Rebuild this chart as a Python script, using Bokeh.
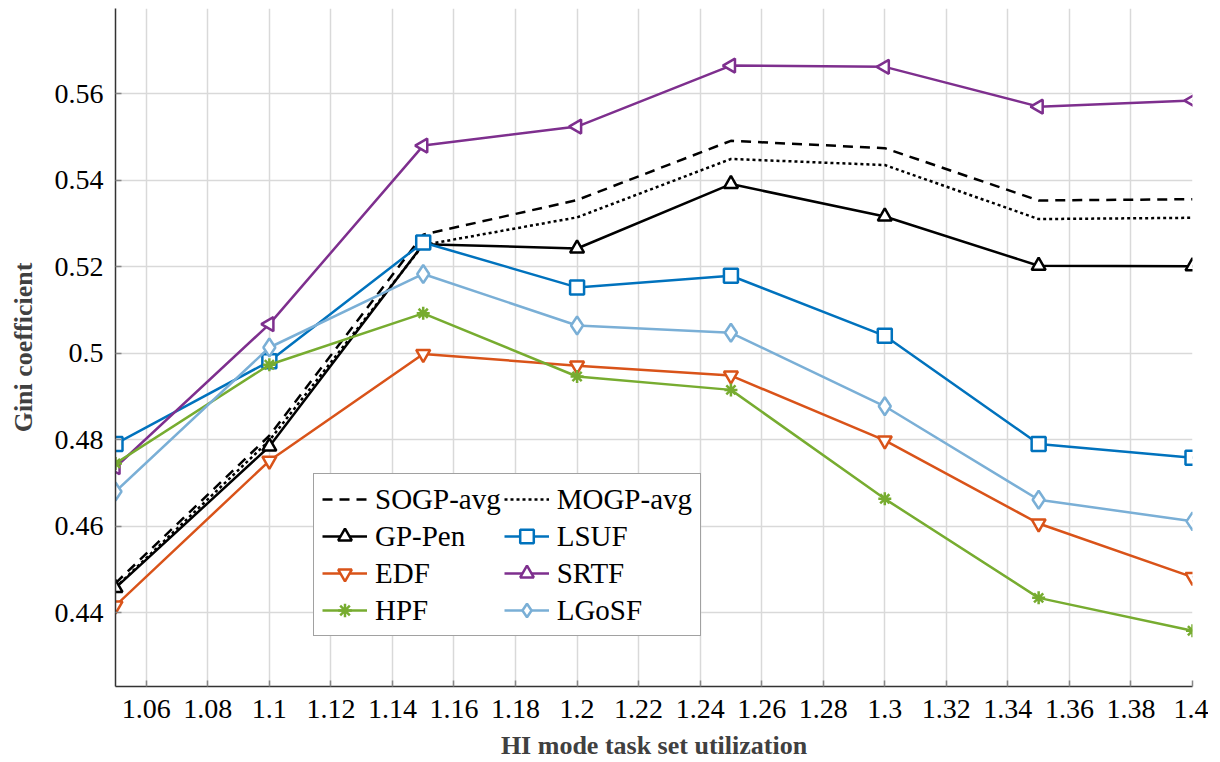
import numpy as np
from bokeh.plotting import figure
from bokeh.models import Range1d, FixedTicker, CustomJSTickFormatter, Legend, LegendItem
from bokeh.embed import file_html
from bokeh.resources import INLINE

x = [1.05, 1.10, 1.15, 1.20, 1.25, 1.30, 1.35, 1.40]
sogp_avg = [0.4468, 0.4809, 0.5274, 0.5354, 0.5491, 0.5474, 0.5353, 0.5356]
mogp_avg = [0.4458, 0.4798, 0.5250, 0.5314, 0.5449, 0.5435, 0.5310, 0.5313]
gp_pen = [0.4457, 0.4784, 0.5252, 0.5242, 0.5391, 0.5316, 0.5202, 0.5201]
lsuf = [0.4790, 0.4981, 0.5256, 0.5152, 0.5179, 0.5040, 0.4790, 0.4758]
edf = [0.4416, 0.4751, 0.4998, 0.4971, 0.4948, 0.4798, 0.4606, 0.4482]
srtf = [0.4736, 0.5067, 0.5480, 0.5524, 0.5665, 0.5662, 0.5570, 0.5584]
hpf = [0.4745, 0.4973, 0.5092, 0.4946, 0.4915, 0.4663, 0.4434, 0.4358]
lgosf = [0.4680, 0.5013, 0.5183, 0.5064, 0.5047, 0.4877, 0.4661, 0.4611]

x_ticks = [1.06, 1.08, 1.10, 1.12, 1.14, 1.16, 1.18, 1.20, 1.22, 1.24, 1.26, 1.28,
           1.30, 1.32, 1.34, 1.36, 1.38, 1.40]
y_ticks = [0.44, 0.46, 0.48, 0.50, 0.52, 0.54, 0.56]

FONT = "Liberation Serif"

p = figure(width=1208, height=762, output_backend="svg", toolbar_location=None,
           x_range=Range1d(1.05, 1.40), y_range=Range1d(0.4229, 0.5797),
           min_border_left=115, min_border_right=16, min_border_top=8,
           min_border_bottom=76)
p.outline_line_color = None
p.background_fill_color = "white"

for ax in (p.xaxis[0], p.yaxis[0]):
    ax.axis_line_color = "#333333"
    ax.axis_line_width = 1.5
    ax.major_tick_in = 6
    ax.major_tick_out = 0
    ax.minor_tick_in = 0
    ax.minor_tick_out = 0
    ax.major_tick_line_color = "#888888"
    ax.major_tick_line_width = 1.5
    ax.major_label_text_font = FONT
    ax.major_label_text_font_size = "28px"
    ax.major_label_text_color = "black"
    ax.axis_label_text_font = FONT
    ax.axis_label_text_font_style = "bold"
    ax.axis_label_text_font_size = "26px"
    ax.axis_label_text_color = "#404040"
    ax.formatter = CustomJSTickFormatter(code="return String(Number(tick.toFixed(2)));")

p.xaxis[0].ticker = FixedTicker(ticks=x_ticks)
p.yaxis[0].ticker = FixedTicker(ticks=y_ticks)
p.xaxis[0].axis_label = "HI mode task set utilization"
p.yaxis[0].axis_label = "Gini coefficient"
p.xaxis[0].major_label_standoff = 13
p.yaxis[0].major_label_standoff = 12
p.xaxis[0].axis_label_standoff = 10
p.yaxis[0].axis_label_standoff = 14

p.xgrid.ticker = FixedTicker(ticks=x_ticks)
p.ygrid.ticker = FixedTicker(ticks=y_ticks)
p.xgrid.grid_line_color = "#d9d9d9"
p.ygrid.grid_line_color = "#d9d9d9"
p.xgrid.grid_line_width = 1.5
p.ygrid.grid_line_width = 1.5

LW = 2.5
it = {}

r = p.line(x, sogp_avg, line_color="black", line_width=LW, line_dash="10 7")
it["SOGP-avg"] = [r]
r = p.line(x, mogp_avg, line_color="black", line_width=LW, line_dash="3 3")
it["MOGP-avg"] = [r]

def series(y, color, marker, size, angle=0.0):
    l = p.line(x, y, line_color=color, line_width=LW)
    m = p.scatter(x, y, marker=marker, size=size, angle=angle,
                  line_color=color, line_width=2.5, fill_color="white")
    return [l, m]

it["GP-Pen"] = series(gp_pen, "black", "triangle", 14)
it["LSUF"] = series(lsuf, "#0072BD", "square", 14)
it["EDF"] = series(edf, "#D95319", "inverted_triangle", 14)
it["SRTF"] = series(srtf, "#7E2F8E", "triangle", 14, np.pi / 2)
it["HPF"] = series(hpf, "#77AC30", "asterisk", 13)
it["LGoSF"] = series(lgosf, "#7AAFD6", "diamond", 18)

# column-major fill: left column then right column
order = ["SOGP-avg", "GP-Pen", "EDF", "HPF", "MOGP-avg", "LSUF", "SRTF", "LGoSF"]
items = [LegendItem(label=k, renderers=it[k]) for k in order]

legend = Legend(items=items, location=(198, 50), ncols=2,
                label_text_font=FONT, label_text_font_size="29px",
                label_text_color="black",
                label_height=34, glyph_width=45, glyph_height=34,
                label_standoff=8, spacing=3, padding=8, margin=0,
                border_line_color="#444444", border_line_width=1.5,
                background_fill_alpha=1.0)
p.add_layout(legend, "center")

open("out.html", "w").write(file_html(p, INLINE))
